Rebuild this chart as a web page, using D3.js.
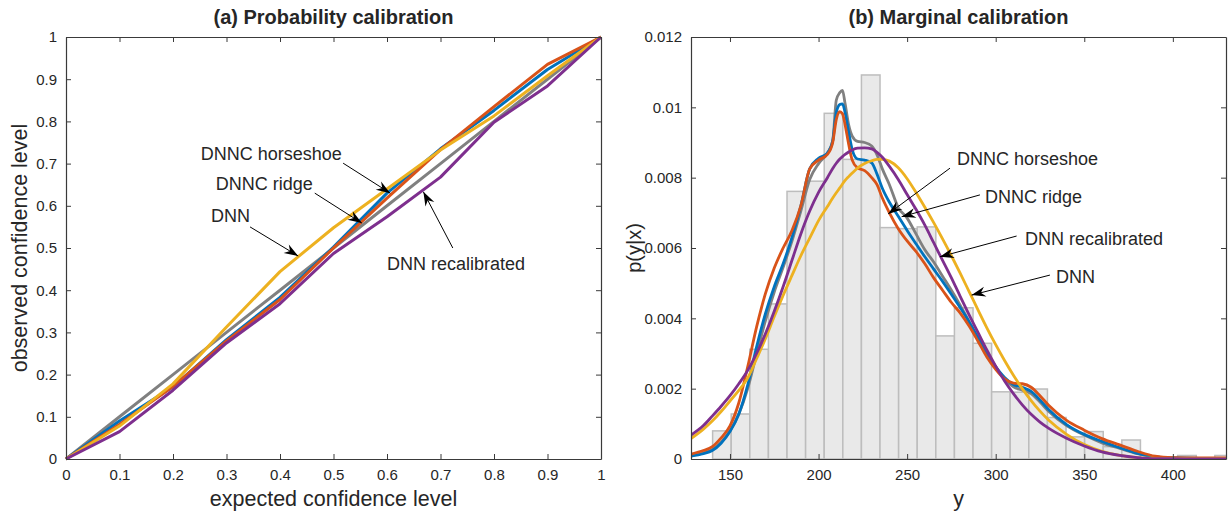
<!DOCTYPE html>
<html><head><meta charset="utf-8">
<script src="https://cdn.jsdelivr.net/npm/d3@7"></script>
<style>
body{margin:0;background:#fff}
text{font-family:"Liberation Sans",Arial,Helvetica,sans-serif;fill:#262626}
</style>
</head><body>
<svg id="c" width="1231" height="514"></svg>
<script>
// ---------- Panel (a) data ----------
const levels      = [0,0.1,0.2,0.3,0.4,0.5,0.6,0.7,0.8,0.9,1];
const calIdeal    = [0,0.1,0.2,0.3,0.4,0.5,0.6,0.7,0.8,0.9,1];
const calDNN      = [0,0.078,0.178,0.313,0.444,0.548,0.640,0.732,0.813,0.908,1];
const calHorse    = [0,0.090,0.171,0.283,0.383,0.502,0.630,0.735,0.826,0.923,1];
const calRidge    = [0,0.082,0.172,0.280,0.378,0.500,0.618,0.733,0.835,0.935,1];
const calRecal    = [0,0.065,0.163,0.275,0.368,0.487,0.574,0.668,0.798,0.884,1];
const levelTicks  = ["0","0.1","0.2","0.3","0.4","0.5","0.6","0.7","0.8","0.9","1"];

// ---------- Panel (b) data ----------
const histEdges = [140.2,150.7,161.2,171.7,182.2,192.7,203.2,213.7,224.2,234.7,245.2,255.7,266.2,276.7,287.2,297.7,308.2,318.7,329.2,339.7,350.2,360.7,371.2,381.7,392.2,402.7,413.2,423.7,434.2];
const histDens  = [0.00080,0.00128,0.00312,0.00441,0.00761,0.00790,0.00983,0.00852,0.01092,0.00658,0.00655,0.00660,0.00350,0.00430,0.00329,0.00191,0.00190,0.00199,0.00118,0.00063,0.00078,0.00035,0.00054,0,0,0.0001,0,0.0001];

const yGrid = [128,135,140,145,150,155,160,165,170,175,180,185,190,195,200,205,208,210,212,213.5,215,217,219,222,226,230,233,236,240,245,250,255,260,265,270,275,280,285,290,295,300,305,310,315,320,325,330,340,350,360,370,380,390,400,415,430];
const pTrue  = [0.00010,0.00017,0.00027,0.00048,0.00080,0.00128,0.00200,0.00298,0.00393,0.00475,0.00545,0.00620,0.00705,0.00795,0.00840,0.00870,0.00905,0.01020,0.01042,0.01048,0.01010,0.00950,0.00918,0.00903,0.00900,0.00890,0.00865,0.00825,0.00780,0.00715,0.00685,0.00640,0.00595,0.00560,0.00520,0.00480,0.00437,0.00390,0.00345,0.00300,0.00262,0.00228,0.00205,0.00196,0.00186,0.00162,0.00135,0.00095,0.00068,0.00046,0.00030,0.00015,0.00006,0.00003,0.00002,0.00002];
const pHorse = [0.00008,0.00015,0.00024,0.00045,0.00078,0.00128,0.00210,0.00318,0.00413,0.00490,0.00555,0.00630,0.00720,0.00825,0.00855,0.00870,0.00905,0.00985,0.01008,0.01010,0.00985,0.00930,0.00880,0.00853,0.00850,0.00842,0.00810,0.00770,0.00730,0.00690,0.00650,0.00612,0.00575,0.00540,0.00505,0.00468,0.00430,0.00390,0.00345,0.00300,0.00262,0.00232,0.00212,0.00204,0.00192,0.00168,0.00140,0.00098,0.00070,0.00050,0.00032,0.00016,0.00006,0.00003,0.00002,0.00002];
const pRidge = [0.00014,0.00024,0.00035,0.00060,0.00094,0.00160,0.00262,0.00375,0.00470,0.00543,0.00600,0.00650,0.00720,0.00825,0.00850,0.00866,0.00900,0.00965,0.00988,0.00982,0.00950,0.00895,0.00850,0.00828,0.00820,0.00800,0.00780,0.00742,0.00700,0.00655,0.00620,0.00590,0.00555,0.00515,0.00480,0.00445,0.00415,0.00378,0.00335,0.00290,0.00255,0.00228,0.00216,0.00214,0.00204,0.00180,0.00152,0.00110,0.00082,0.00058,0.00040,0.00022,0.00008,0.00004,0.00003,0.00003];
const pDNN   = [0.00058,0.00085,0.00108,0.00135,0.00165,0.00195,0.00230,0.00285,0.00342,0.00405,0.00465,0.00522,0.00578,0.00628,0.00678,0.00718,0.00742,0.00757,0.00771,0.00782,0.00792,0.00803,0.00813,0.00827,0.00840,0.00848,0.00852,0.00852,0.00847,0.00828,0.00797,0.00758,0.00716,0.00672,0.00626,0.00578,0.00528,0.00476,0.00424,0.00373,0.00325,0.00280,0.00238,0.00200,0.00166,0.00136,0.00110,0.00070,0.00041,0.00022,0.00010,0.00004,0.00002,0.00001,0,0];
const pRecal = [0.00068,0.00095,0.00122,0.00150,0.00180,0.00214,0.00252,0.00300,0.00356,0.00420,0.00490,0.00565,0.00640,0.00705,0.00758,0.00800,0.00826,0.00841,0.00853,0.00860,0.00866,0.00873,0.00879,0.00884,0.00885,0.00882,0.00872,0.00858,0.00832,0.00795,0.00752,0.00710,0.00665,0.00615,0.00565,0.00515,0.00462,0.00410,0.00360,0.00310,0.00264,0.00222,0.00186,0.00154,0.00127,0.00105,0.00087,0.00059,0.00037,0.00020,0.00010,0.00004,0.00001,0.00001,0,0];
const densTicks = ["0","0.002","0.004","0.006","0.008","0.01","0.012"];
const densTickVals = [0,0.002,0.004,0.006,0.008,0.010,0.012];
const yTicks = [150,200,250,300,350,400];

// annotation (text anchor + arrow start/end, data coords)
const annA = [
  {t:"DNNC horseshoe",   tx:0.252, ty:0.7085, x1:0.518, y1:0.701, x2:0.606, y2:0.630},
  {t:"DNNC ridge",       tx:0.280, ty:0.6374, x1:0.465, y1:0.630, x2:0.553, y2:0.559},
  {t:"DNN",              tx:0.271, ty:0.5623, x1:0.344, y1:0.550, x2:0.434, y2:0.481},
  {t:"DNN recalibrated", tx:0.600, ty:0.4479, x1:0.723, y1:0.500, x2:0.668, y2:0.633}
];
const annB = [
  {t:"DNNC horseshoe",   tx:278.1, ty:0.00836, x1:274.2, y1:0.00827, x2:239.3, y2:0.00697},
  {t:"DNNC ridge",       tx:293.9, ty:0.00728, x1:291.1, y1:0.00751, x2:246.9, y2:0.00689},
  {t:"DNN recalibrated", tx:316.5, ty:0.00608, x1:311.8, y1:0.00634, x2:268.5, y2:0.00575},
  {t:"DNN",              tx:334.0, ty:0.00500, x1:330.6, y1:0.00523, x2:286.4, y2:0.00466}
];

const C = {blue:"#0072BD", orange:"#D95319", yellow:"#EDB120", purple:"#7E2F8E", gray:"#808080"};
const svg = d3.select("#c");
const axisColor = "#3a3a3a";

const defs = svg.append("defs");
defs.append("marker").attr("id","ah").attr("markerUnits","userSpaceOnUse")
  .attr("viewBox","-15 -6 16 12").attr("markerWidth",16).attr("markerHeight",12)
  .attr("refX",0).attr("refY",0).attr("orient","auto")
  .append("path").attr("d","M0,0 L-14,-5 L-9.5,0 L-14,5 Z").attr("fill","#000");

function frame(g, x, y, xVals, xLabs, yVals, yLabs, w, h){
  const styl = s => { s.select(".domain").attr("stroke",axisColor).attr("stroke-width",1.2);
    s.selectAll(".tick line").attr("stroke",axisColor);
    s.selectAll(".tick text").attr("fill","#262626").style("font-size","15px").style("font-family","Liberation Sans, Arial, sans-serif"); };
  g.append("g").attr("transform",`translate(0,${h})`)
    .call(d3.axisBottom(x).tickValues(xVals).tickFormat((d,i)=>xLabs[i]).tickSizeInner(-5).tickSizeOuter(0).tickPadding(10)).call(styl);
  g.append("g").call(d3.axisTop(x).tickValues(xVals).tickFormat("").tickSizeInner(-5).tickSizeOuter(0)).call(styl);
  g.append("g").call(d3.axisLeft(y).tickValues(yVals).tickFormat((d,i)=>yLabs[i]).tickSizeInner(-5).tickSizeOuter(0).tickPadding(9)).call(styl);
  g.append("g").attr("transform",`translate(${w},0)`)
    .call(d3.axisRight(y).tickValues(yVals).tickFormat("").tickSizeInner(-5).tickSizeOuter(0)).call(styl);
}

function annotate(g, x, y, ann){
  ann.forEach(a=>{
    g.append("line").attr("x1",x(a.x1)).attr("y1",y(a.y1)).attr("x2",x(a.x2)).attr("y2",y(a.y2))
      .attr("stroke","#000").attr("stroke-width",1).attr("marker-end","url(#ah)");
    g.append("text").attr("x",x(a.tx)).attr("y",y(a.ty)).text(a.t)
      .style("font-size","18px").attr("fill","#111");
  });
}

// ---------- Panel (a) ----------
{
  const L=66, T=37, W=535, H=422;
  const g = svg.append("g").attr("transform",`translate(${L},${T})`);
  const x = d3.scaleLinear().domain([0,1]).range([0,W]);
  const y = d3.scaleLinear().domain([0,1]).range([H,0]);
  const series = [[calIdeal,C.gray],[calHorse,C.blue],[calRidge,C.orange],[calDNN,C.yellow],[calRecal,C.purple]];
  const line = d3.line().x((d,i)=>x(levels[i])).y(d=>y(d));
  series.forEach(([s,c])=> g.append("path").attr("d",line(s)).attr("fill","none").attr("stroke",c).attr("stroke-width",3).attr("stroke-linejoin","round"));
  frame(g,x,y,levels,levelTicks,levels,levelTicks,W,H);
  annotate(g,x,y,annA);
  svg.append("text").attr("x",L+W/2).attr("y",24).attr("text-anchor","middle").style("font-size","20px").style("font-weight","bold").text("(a) Probability calibration");
  svg.append("text").attr("x",L+W/2).attr("y",506).attr("text-anchor","middle").style("font-size","21.5px").text("expected confidence level");
  svg.append("text").attr("transform",`translate(27,${T+H/2}) rotate(-90)`).attr("text-anchor","middle").style("font-size","21.5px").text("observed confidence level");
}

// ---------- Panel (b) ----------
{
  const L=691, T=37, W=535, H=422;
  const g = svg.append("g").attr("transform",`translate(${L},${T})`);
  const x = d3.scaleLinear().domain([128,430]).range([0,W]);
  const y = d3.scaleLinear().domain([0,0.012]).range([H,0]);
  defs.append("clipPath").attr("id","clipb").append("rect").attr("x",0).attr("y",0).attr("width",W).attr("height",H);
  const pg = g.append("g").attr("clip-path","url(#clipb)");
  const bars = histDens.map((d,i)=>({x0:histEdges[i],x1:histEdges[i+1],d}));
  pg.selectAll("rect.bar").data(bars).join("rect").attr("class","bar")
    .attr("x",b=>x(b.x0)).attr("width",b=>x(b.x1)-x(b.x0))
    .attr("y",b=>y(b.d)).attr("height",b=>y(0)-y(b.d))
    .attr("fill","#e9e9e9").attr("stroke","#bdbdbd").attr("stroke-width",1.5);
  const line = d3.line().x((d,i)=>x(yGrid[i])).y(d=>y(d)).curve(d3.curveMonotoneX);
  const series = [[pTrue,C.gray],[pHorse,C.blue],[pRidge,C.orange],[pDNN,C.yellow],[pRecal,C.purple]];
  series.forEach(([s,c])=> pg.append("path").attr("d",line(s)).attr("fill","none").attr("stroke",c).attr("stroke-width",2.8).attr("stroke-linejoin","round"));
  frame(g,x,y,yTicks,yTicks.map(String),densTickVals,densTicks,W,H);
  annotate(g,x,y,annB);
  svg.append("text").attr("x",L+W/2).attr("y",24).attr("text-anchor","middle").style("font-size","20px").style("font-weight","bold").text("(b) Marginal calibration");
  svg.append("text").attr("x",L+W/2).attr("y",506).attr("text-anchor","middle").style("font-size","21.5px").text("y");
  svg.append("text").attr("transform",`translate(641,${T+H/2}) rotate(-90)`).attr("text-anchor","middle").style("font-size","20px").text("p(y|x)");
}
</script>
</body></html>
